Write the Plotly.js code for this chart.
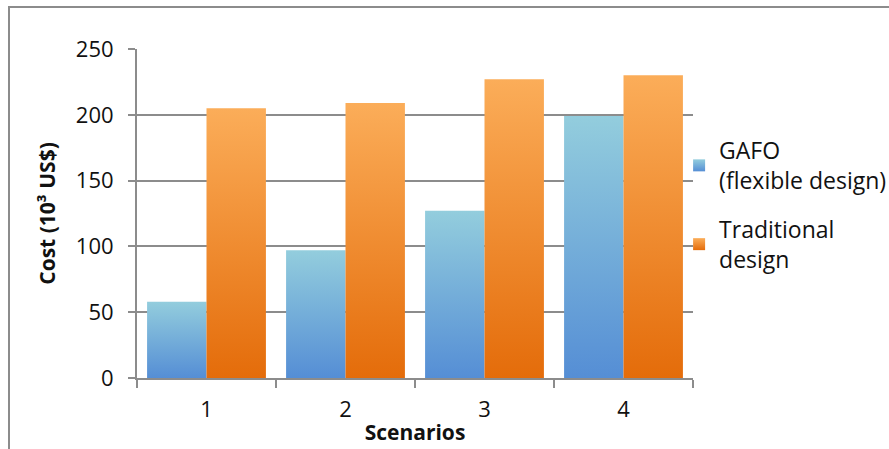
<!DOCTYPE html>
<html>
<head>
<meta charset="utf-8">
<script src="https://cdn.plot.ly/plotly-3.0.1.min.js"></script>
<style>
  html, body { margin:0; padding:0; background:#fff; }
  #wrap { position:relative; width:889px; height:449px; overflow:hidden; }
  #chart { position:absolute; left:0; top:0; width:889px; height:449px; }
  #frame { position:absolute; left:8px; top:6px; width:900px; height:460px;
           border-left:2px solid #8c8c8c; border-top:2px solid #8c8c8c; pointer-events:none; }
</style>
</head>
<body>
<div id="wrap">
  <div id="chart"></div>
  <div id="frame"></div>
</div>
<script>
const scenarios = ['1', '2', '3', '4'];
const gafoCost = [58, 97, 127, 199];
const traditionalCost = [205, 209, 227, 230];
const seriesNames = ['GAFO<br>(flexible design)', 'Traditional<br>design'];

const FONT = '"Open Sans", "Noto Sans", sans-serif';
const FS = 22;

const traces = [
  { type:'bar', x:scenarios, y:gafoCost, name:seriesNames[0], legendgroup:'g1',
    marker:{ color:'#7fb2dc' }, hoverinfo:'skip' },
  { type:'bar', x:scenarios, y:traditionalCost, name:seriesNames[1], legendgroup:'g2',
    marker:{ color:'#f08e35' }, hoverinfo:'skip' }
];

const layout = {
  width:889, height:449,
  margin:{ l:137, r:196, t:49, b:71, autoexpand:false },
  paper_bgcolor:'rgba(0,0,0,0)', plot_bgcolor:'rgba(0,0,0,0)',
  font:{ family:FONT, size:FS, color:'#111' },
  barmode:'group', bargap:0.145, bargroupgap:0,
  showlegend:true,
  legend:{ x:0.975, xanchor:'left', y:0.526, yanchor:'middle',
           font:{ family:FONT, size:23, color:'#111' },
           itemwidth:30, tracegroupgap:16, bgcolor:'rgba(0,0,0,0)' },
  xaxis:{ type:'category', showline:true, linecolor:'#8c8c8c', linewidth:2,
          ticks:'outside', tickson:'boundaries', ticklen:8, tickcolor:'#8c8c8c', tickwidth:2,
          ticklabelstandoff:11, automargin:false,
          showgrid:false, tickfont:{ family:FONT, size:FS, color:'#111' },
          title:{ text:'<b>Scenarios</b>', font:{ family:FONT, size:FS - 1, color:'#111' }, standoff:3 } },
  yaxis:{ range:[0,250], dtick:50, showline:true, linecolor:'#8c8c8c', linewidth:2,
          ticks:'outside', ticklen:7, tickcolor:'#8c8c8c', tickwidth:2,
          ticklabelstandoff:10, automargin:false,
          showgrid:true, gridcolor:'#8c8c8c', gridwidth:2, zeroline:false,
          tickfont:{ family:FONT, size:FS, color:'#111' },
          title:{ text:'<b>Cost (10³ US$)</b>', font:{ family:FONT, size:FS - 1, color:'#111' }, standoff:14 } }
};

Plotly.newPlot('chart', traces, layout, { displayModeBar:false, staticPlot:true }).then(function (gd) {
  const svg = gd.querySelector('svg.main-svg');
  const ns = 'http://www.w3.org/2000/svg';
  let defs = svg.querySelector('defs');
  if (!defs) { defs = document.createElementNS(ns, 'defs'); svg.insertBefore(defs, svg.firstChild); }
  function grad(id, top, bottom) {
    const g = document.createElementNS(ns, 'linearGradient');
    g.setAttribute('id', id);
    g.setAttribute('x1', '0'); g.setAttribute('y1', '0');
    g.setAttribute('x2', '0'); g.setAttribute('y2', '1');
    [[0, top], [1, bottom]].forEach(function (s) {
      const st = document.createElementNS(ns, 'stop');
      st.setAttribute('offset', s[0]);
      st.setAttribute('stop-color', s[1]);
      g.appendChild(st);
    });
    defs.appendChild(g);
  }
  grad('gBlue', '#93cddd', '#558ed5');
  grad('gOrange', '#fbad59', '#e46c0a');
  const ids = ['gBlue', 'gOrange'];
  gd.querySelectorAll('.barlayer .trace').forEach(function (t, i) {
    t.querySelectorAll('path').forEach(function (p) { p.style.fill = 'url(#' + ids[i] + ')'; });
  });
  gd.querySelectorAll('.legend .traces').forEach(function (t, i) {
    t.querySelectorAll('.legendpoints path').forEach(function (p) { p.style.fill = 'url(#' + ids[i] + ')'; });
  });
});
</script>
</body>
</html>
